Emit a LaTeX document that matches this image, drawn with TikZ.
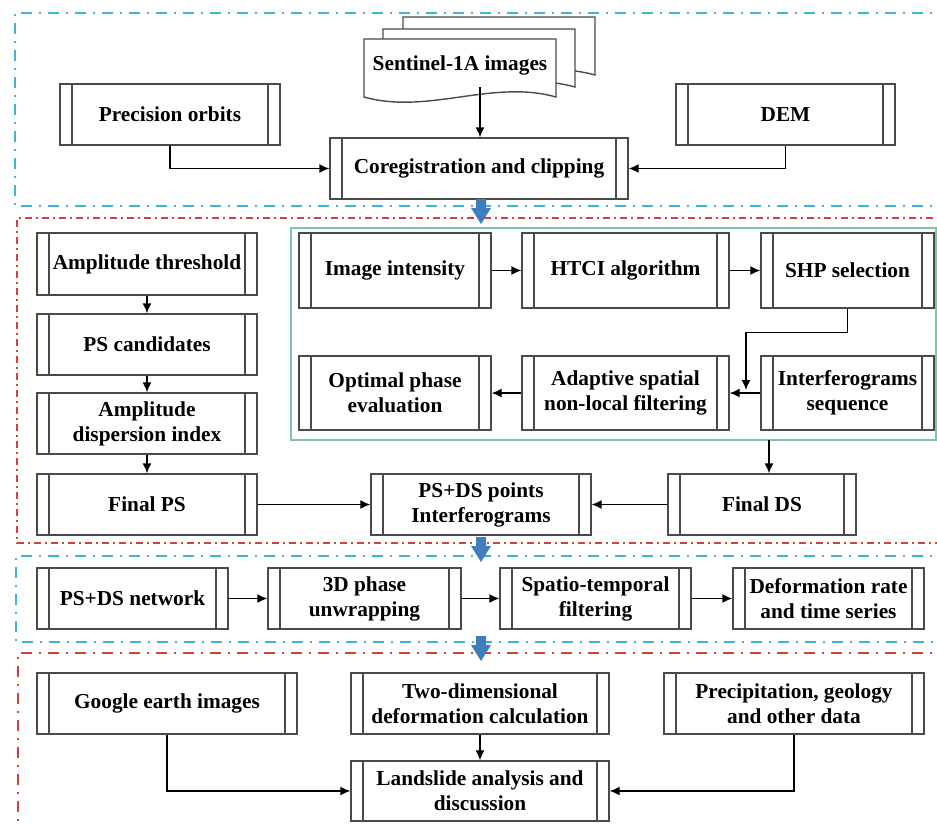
\documentclass[tikz,border=0pt]{standalone}
\usepackage{fontspec}
\setmainfont{Liberation Serif}
\usetikzlibrary{arrows.meta}
\definecolor{fblue}{HTML}{3DB5D3}
\definecolor{fred}{HTML}{D2413F}
\definecolor{fgreen}{HTML}{7CC7A8}
\definecolor{barrow}{HTML}{3E7DBE}
\definecolor{boxc}{HTML}{4A4A4A}
\begin{document}
\begin{tikzpicture}[x=1pt,y=-1pt,
  proc/.style={draw=boxc, line width=1.4pt, fill=white, align=center, inner sep=0pt,
    font=\fontsize{21.3}{25}\selectfont\bfseries,
    path picture={\draw[boxc,line width=1.4pt]
      ([xshift=12pt]path picture bounding box.south west) -- ([xshift=12pt]path picture bounding box.north west)
      ([xshift=-12pt]path picture bounding box.south east) -- ([xshift=-12pt]path picture bounding box.north east);}},
  arr/.style={-{Latex[length=10pt,width=9pt]}, line width=1.4pt, black},
  bframe/.style={fblue, line width=1.8pt, dash pattern=on 11pt off 7pt on 2pt off 7pt},
  rframe/.style={fred, line width=1.6pt, dash pattern=on 7pt off 4pt on 2pt off 4pt},
  rframeb/.style={fred, line width=1.8pt, dash pattern=on 11pt off 7pt on 2pt off 7pt},
  doc/.style={draw=boxc, line width=1.4pt, fill=white},
  txt/.style={font=\fontsize{21.3}{25}\selectfont\bfseries, inner sep=0pt, align=center},
]
\useasboundingbox (0,0) rectangle (937,823);
\clip (0,0) rectangle (937,823);
\fill[white] (0,0) rectangle (937,823);

% frames
\draw[bframe] (950,13) -- (15,13) -- (15,206) -- (950,206);
\draw[rframe] (950,218) -- (17,218) -- (17,543) -- (950,543);
\draw[bframe] (950,556) -- (16,556) -- (16,642) -- (950,642);
\draw[rframeb] (950,653) -- (18,653) -- (18,830);
\draw[fgreen, line width=1.5pt] (291,228) rectangle (936,440);

% stacked documents
\foreach \dx/\dy in {39/-22, 19/-10, 0/0} {
  \draw[doc, shift={(\dx,\dy)}] (364,39) -- (556,39) -- (556,97)
    .. controls (492,79) and (428,115) .. (364,97) -- cycle;
}
\node[txt] (sent) at (460,65) {Sentinel-1A images};
\coordinate (sentb) at (480,87);

% section 1
\node[proc, minimum width=220pt, minimum height=61pt] (orbits) at (170,114.5) {Precision orbits};
\node[proc, minimum width=298pt, minimum height=61pt] (coreg) at (479,168.5) {Coregistration and clipping};
\node[proc, minimum width=219pt, minimum height=61pt] (dem) at (785.5,114.5) {DEM};

% section 2
\node[proc, minimum width=220pt, minimum height=62pt] (amp) at (147,264) {Amplitude threshold};
\node[proc, minimum width=220pt, minimum height=61pt] (psc) at (147,344.5) {PS candidates};
\node[proc, minimum width=220pt, minimum height=61pt] (adi) at (147,423.5) {Amplitude\\dispersion index};
\node[proc, minimum width=220pt, minimum height=61pt] (fps) at (147,504.5) {Final PS};

\node[proc, minimum width=192pt, minimum height=75pt] (img) at (395,270.5) {Image intensity};
\node[proc, minimum width=207pt, minimum height=75pt] (htci) at (625.5,270.5) {HTCI algorithm};
\node[proc, minimum width=173pt, minimum height=75pt] (shp) at (847.5,270.5) {SHP selection};
\node[proc, minimum width=192pt, minimum height=74pt] (opt) at (395,393) {Optimal phase\\evaluation};
\node[proc, minimum width=207pt, minimum height=74pt] (asnl) at (625.5,393) {Adaptive spatial\\non-local filtering};
\node[proc, minimum width=173pt, minimum height=74pt] (ifs) at (847.5,393) {Interferograms\\sequence};

\node[proc, minimum width=220pt, minimum height=61pt] (pds) at (481,504.5) {PS+DS points\\Interferograms};
\node[proc, minimum width=188pt, minimum height=61pt] (fds) at (762,504.5) {Final DS};
\coordinate (gb) at (769,440);
\coordinate (m1) at (746,390);

% section 3
\node[proc, minimum width=191pt, minimum height=61pt] (net) at (132.5,598.5) {PS+DS network};
\node[proc, minimum width=193pt, minimum height=61pt] (unw) at (364.5,598.5) {3D phase\\unwrapping};
\node[proc, minimum width=191pt, minimum height=61pt] (stf) at (595.5,598.5) {Spatio-temporal\\filtering};
\node[proc, minimum width=191pt, minimum height=61pt] (def) at (828.5,598.5) {Deformation rate\\and time series};

% section 4
\node[proc, minimum width=260pt, minimum height=61pt] (gei) at (167,703.5) {Google earth images};
\node[proc, minimum width=258pt, minimum height=61pt] (twod) at (480,703.5) {Two-dimensional\\deformation calculation};
\node[proc, minimum width=260pt, minimum height=61pt] (prec) at (794,703.5) {Precipitation, geology\\and other data};
\node[proc, minimum width=258pt, minimum height=60pt] (land) at (480,791) {Landslide analysis and\\discussion};

% connectors
\draw[arr] (sentb) -- (sentb |- coreg.north);
\draw[arr] (orbits.south) |- (coreg.west);
\draw[arr] (dem.south) |- (coreg.east);

\draw[arr] (amp) -- (psc);
\draw[arr] (psc) -- (adi);
\draw[arr] (adi) -- (fps);
\draw[arr] (img) -- (htci);
\draw[arr] (htci) -- (shp);
\draw[arr] (shp.south) -- ++(0,24) -| (m1);
\draw[arr] (ifs) -- (asnl);
\draw[arr] (asnl) -- (opt);
\draw[arr] (gb) -- (gb |- fds.north);
\draw[arr] (fps) -- (pds);
\draw[arr] (fds) -- (pds);

\draw[arr] (net) -- (unw);
\draw[arr] (unw) -- (stf);
\draw[arr] (stf) -- (def);

\draw[arr] (gei.south) |- (land.west);
\draw[arr] (prec.south) |- (land.east);
\draw[arr] (twod) -- (land);

% block arrows between sections
\foreach \yy in {199,537,636} {
  \fill[barrow] (476,\yy) -- (486,\yy) -- (486,\yy+9) -- (491,\yy+9) -- (481,\yy+25)
    -- (471,\yy+9) -- (476,\yy+9) -- cycle;
}
\end{tikzpicture}
\end{document}
